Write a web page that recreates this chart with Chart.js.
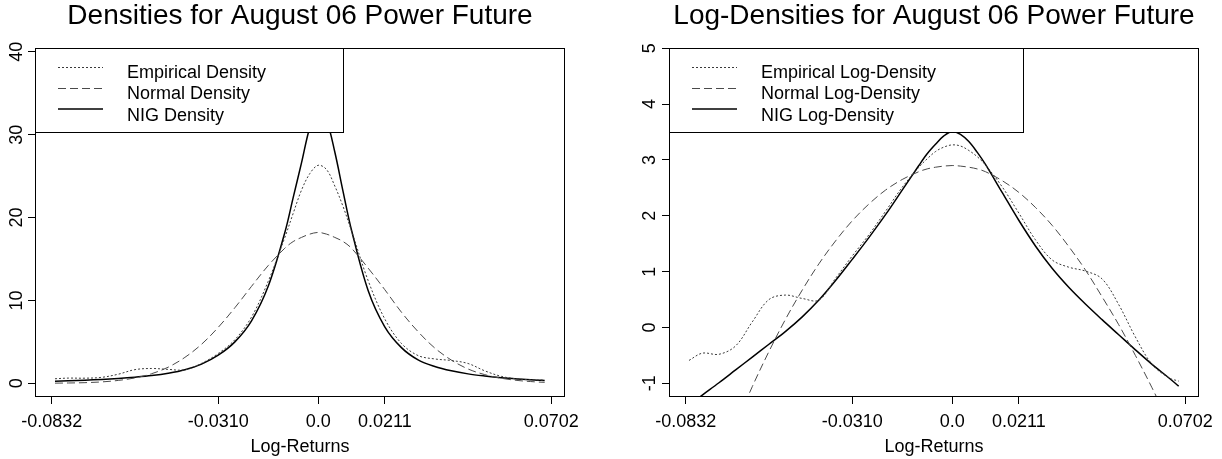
<!DOCTYPE html>
<html>
<head>
<meta charset="utf-8">
<script src="https://cdn.jsdelivr.net/npm/chart.js@4.4.1/dist/chart.umd.min.js"></script>
<style>
  html, body { margin: 0; padding: 0; background: #fff; }
  #wrap { position: relative; width: 1222px; height: 459px; }
  canvas { position: absolute; top: 0; }
</style>
</head>
<body>
<div id="wrap">
  <canvas id="c1" width="611" height="459" style="left:0"></canvas>
  <canvas id="c2" width="611" height="459" style="left:611px"></canvas>
</div>
<script>
// x positions (log-returns in percent)
const xPos = [-7.9, -7.5, -7.0, -6.5, -6.0, -5.5, -5.0, -4.5, -4.0, -3.5, -3.0, -2.5, -2.0, -1.5, -1.0, -0.75, -0.5, -0.25, 0,
              0.25, 0.5, 0.75, 1.0, 1.5, 2.0, 2.5, 3.0, 3.5, 4.0, 4.5, 5.0, 5.5, 6.0, 6.5, 6.8];

// densities (left panel)
const empDensity  = [0.55, 0.63, 0.62, 0.72, 1.10, 1.65, 1.79, 1.68, 1.63, 2.41, 3.60, 5.26, 8.00, 12.3, 17.6, 20.5, 23.3, 25.3, 26.3,
                     25.8, 23.8, 21.3, 18.4, 12.4, 7.77, 4.81, 3.35, 2.94, 2.75, 2.39, 1.51, 0.84, 0.52, 0.41, 0.38];
const normDensity = [0.02, 0.04, 0.08, 0.17, 0.35, 0.65, 1.16, 1.95, 3.13, 4.71, 6.75, 9.12, 11.7, 14.2, 16.3, 17.1, 17.6, 18.0, 18.2,
                     18.0, 17.6, 17.1, 16.3, 13.9, 11.3, 8.58, 6.23, 4.26, 2.80, 1.73, 1.05, 0.61, 0.34, 0.18, 0.12];
const nigDensity  = [0.25, 0.30, 0.37, 0.47, 0.59, 0.74, 0.93, 1.21, 1.63, 2.32, 3.39, 5.00, 7.54, 11.7, 18.2, 22.4, 26.6, 30.9, 33.4,
                     31.8, 27.9, 23.1, 18.5, 11.2, 6.82, 4.31, 2.83, 2.03, 1.51, 1.14, 0.88, 0.67, 0.52, 0.40, 0.35];

// log-densities (right panel)
const empLogDensity  = [-0.59, -0.46, -0.48, -0.33, 0.10, 0.50, 0.58, 0.52, 0.49, 0.88, 1.28, 1.66, 2.08, 2.51, 2.87, 3.02, 3.15, 3.23, 3.27,
                        3.25, 3.17, 3.06, 2.91, 2.52, 2.05, 1.57, 1.21, 1.08, 1.01, 0.87, 0.41, -0.17, -0.66, -0.90, -0.96];
const normLogDensity = [-3.97, -3.29, -2.49, -1.75, -1.06, -0.43, 0.15, 0.67, 1.14, 1.55, 1.91, 2.21, 2.46, 2.65, 2.79, 2.84, 2.87, 2.89, 2.90,
                        2.89, 2.87, 2.84, 2.79, 2.63, 2.42, 2.15, 1.83, 1.45, 1.03, 0.55, 0.05, -0.50, -1.08, -1.70, -2.10];
const nigLogDensity  = [-1.39, -1.21, -0.99, -0.76, -0.53, -0.30, -0.07, 0.19, 0.49, 0.84, 1.22, 1.61, 2.02, 2.46, 2.90, 3.11, 3.28, 3.43, 3.51,
                        3.46, 3.33, 3.14, 2.92, 2.42, 1.92, 1.46, 1.06, 0.72, 0.42, 0.14, -0.13, -0.40, -0.66, -0.90, -1.05];

// tick positions and labels
const xTickPositions = [-8, -3, 0, 2, 7];
const xTickLabels = ['-0.0832', '-0.0310', '0.0', '0.0211', '0.0702'];
const yTicksDensity = [0, 10, 20, 30, 40];
const yTicksLog = [-1, 0, 1, 2, 3, 4, 5];

const leftLabels = ['Empirical Density', 'Normal Density', 'NIG Density'];
const rightLabels = ['Empirical Log-Density', 'Normal Log-Density', 'NIG Log-Density'];
const leftTitle = 'Densities for August 06 Power Future';
const rightTitle = 'Log-Densities for August 06 Power Future';
const xTitle = 'Log-Returns';

const FONT = '"Liberation Sans", Arial, Helvetica, sans-serif';

function pts(ys) { return xPos.map((x, i) => ({ x: x, y: ys[i] })); }

function datasets(labels, emp, norm, nig) {
  return [
    { label: labels[0], data: pts(emp), borderColor: '#3a3a3a', borderWidth: 1, borderDash: [2, 2] },
    { label: labels[1], data: pts(norm), borderColor: '#4a4a4a', borderWidth: 1, borderDash: [8, 4] },
    { label: labels[2], data: pts(nig), borderColor: '#000000', borderWidth: 1.5, borderDash: [] }
  ];
}

const framePlugin = {
  id: 'frame',
  afterDatasetsDraw(chart, args, opts) {
    const ctx = chart.ctx;
    const a = chart.chartArea;
    ctx.save();
    ctx.setLineDash([]);
    ctx.strokeStyle = '#000';
    ctx.lineWidth = 1;
    ctx.strokeRect(a.left + 0.5, a.top + 0.5, a.right - a.left - 1, a.bottom - a.top - 1);
    // legend box
    const lw = opts.legendWidth, lh = 84;
    ctx.fillStyle = '#fff';
    ctx.fillRect(a.left + 0.5, a.top + 0.5, lw, lh);
    ctx.strokeRect(a.left + 0.5, a.top + 0.5, lw, lh);
    const lineYs = [67.5, 88.5, 109];
    const textYs = [77.5, 99, 120.5];
    chart.data.datasets.forEach((ds, i) => {
      ctx.beginPath();
      ctx.setLineDash(ds.borderDash || []);
      ctx.strokeStyle = ds.borderColor;
      ctx.lineWidth = ds.borderWidth;
      ctx.moveTo(a.left + 23, lineYs[i]);
      ctx.lineTo(a.left + 68, lineYs[i]);
      ctx.stroke();
      ctx.setLineDash([]);
      ctx.fillStyle = '#000';
      ctx.font = '18px ' + FONT;
      ctx.textAlign = 'left';
      ctx.textBaseline = 'alphabetic';
      ctx.fillText(ds.label, a.left + 92, textYs[i]);
    });
    // title
    ctx.font = '28px ' + FONT;
    ctx.textAlign = 'center';
    ctx.fillStyle = '#000';
    ctx.fillText(opts.title, (a.left + a.right) / 2, 23.5);
    ctx.restore();
  }
};

function makeChart(id, ds, yMin, yMax, yTicks, yWidth, padRight, yPad, title, legendWidth) {
  return new Chart(document.getElementById(id), {
    type: 'line',
    data: { datasets: ds },
    options: {
      responsive: false,
      animation: false,
      devicePixelRatio: 1,
      layout: { padding: { left: 0, top: 48, right: padRight, bottom: 0 } },
      elements: { point: { radius: 0 }, line: { tension: 0.35 } },
      plugins: {
        legend: { display: false },
        tooltip: { enabled: false },
        title: { display: false },
        frame: { title: title, legendWidth: legendWidth }
      },
      scales: {
        x: {
          type: 'linear', min: -8.5, max: 7.41,
          afterBuildTicks: s => { s.ticks = xTickPositions.map(v => ({ value: v })); },
          afterFit: s => { s.height = 62; },
          ticks: { autoSkip: false, maxRotation: 0, minRotation: 0, padding: 7, color: '#000',
                   font: { family: FONT, size: 18 }, callback: (v, i) => xTickLabels[i] },
          grid: { drawOnChartArea: false, drawTicks: true, tickLength: 7, color: '#000', lineWidth: 1 },
          border: { display: false },
          title: { display: true, text: xTitle, color: '#000', font: { family: FONT, size: 18 }, padding: { top: 0, bottom: 1 } }
        },
        y: {
          type: 'linear', min: yMin, max: yMax,
          afterBuildTicks: s => { s.ticks = yTicks.map(v => ({ value: v })); },
          afterFit: s => { s.width = yWidth; },
          ticks: { minRotation: 90, maxRotation: 90, crossAlign: 'center', padding: yPad, color: '#000',
                   font: { family: FONT, size: 18 } },
          grid: { drawOnChartArea: false, drawTicks: true, tickLength: 7, color: '#000', lineWidth: 1 },
          border: { display: false }
        }
      }
    },
    plugins: [framePlugin]
  });
}

makeChart('c1', datasets(leftLabels, empDensity, normDensity, nigDensity),
          -1.65, 40.45, yTicksDensity, 35, 46, 1.3, leftTitle, 308);
makeChart('c2', datasets(rightLabels, empLogDensity, normLogDensity, nigLogDensity),
          -1.245, 5.005, yTicksLog, 58, 23, 3.5, rightTitle, 354);
</script>
</body>
</html>
